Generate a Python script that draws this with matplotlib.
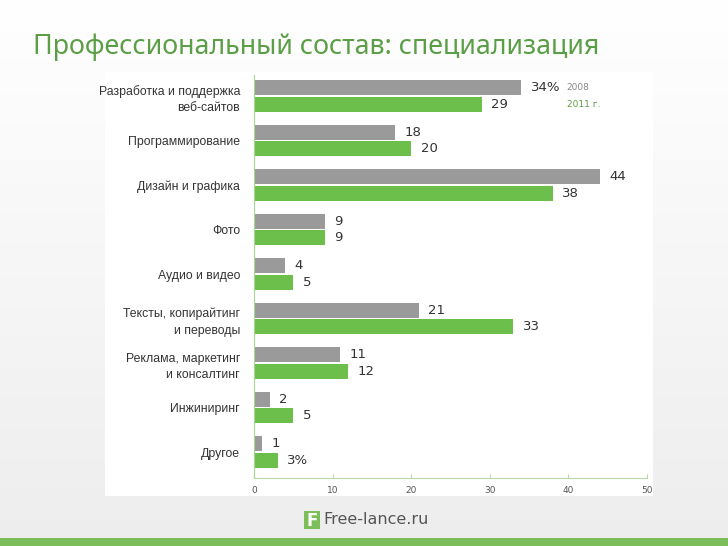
#!/usr/bin/env python3
import matplotlib
matplotlib.use('Agg')
import matplotlib.pyplot as plt
import numpy as np
from matplotlib.patches import Rectangle

categories = [
    'Разработка и поддержка\nвеб-сайтов',
    'Программирование',
    'Дизайн и графика',
    'Фото',
    'Аудио и видео',
    'Тексты, копирайтинг\nи переводы',
    'Реклама, маркетинг\nи консалтинг',
    'Инжиниринг',
    'Другое',
]
values_2008 = [34, 18, 44, 9, 4, 21, 11, 2, 1]
values_2011 = [29, 20, 38, 9, 5, 33, 12, 5, 3]
labels_2008 = ['34%', '18', '44', '9', '4', '21', '11', '2', '1']
labels_2011 = ['29', '20', '38', '9', '5', '33', '12', '5', '3%']
series_names = ['2008', '2011 г.']
x_ticks = [0, 10, 20, 30, 40, 50]

GRAY = '#9a9a9a'
GREEN = '#6cbf4a'
TITLE_GREEN = '#5a9e45'
TEXT = '#333333'

W, H = 728, 546
fig = plt.figure(figsize=(W / 100, H / 100), dpi=100)

# background gradient
bg = fig.add_axes([0, 0, 1, 1], zorder=-10)
grad = np.linspace(1.0, 0.93, 256).reshape(-1, 1)
bg.imshow(np.dstack([grad, grad, grad]), aspect='auto', extent=[0, W, H, 0])
bg.set_xlim(0, W)
bg.set_ylim(H, 0)
bg.axis('off')
# white chart panel
bg.add_patch(Rectangle((105, 72), 548, 424, facecolor='white', edgecolor='none'))
# bottom band
bg.add_patch(Rectangle((0, 538), W, 8, facecolor='#7cbf5a', edgecolor='none'))
# logo
bg.add_patch(Rectangle((304, 511), 16, 18, facecolor='#7cbf5a', edgecolor='none'))
bg.text(312, 520.5, 'F', color='white', fontsize=12, fontweight='bold',
        ha='center', va='center', family='DejaVu Sans')
bg.text(323, 520, 'Free-lance.ru', color='#555555', fontsize=11.5,
        ha='left', va='center', family='DejaVu Sans')

fig.text(33 / W, 1 - 47 / H, 'Профессиональный состав: специализация',
         color=TITLE_GREEN, fontsize=19.3, ha='left', va='center', family='Noto Sans')

ax = fig.add_axes([254 / W, 1 - 478 / H, 393 / W, 403 / H])
ax.set_facecolor('none')
y = np.arange(len(categories))
off = 0.184
h = 0.34
ax.barh(y - off, values_2008, height=h, color=GRAY)
ax.barh(y + off, values_2011, height=h, color=GREEN)

for i in range(len(categories)):
    ax.text(values_2008[i] + 1.2, y[i] - off, labels_2008[i], va='center', ha='left',
            fontsize=9.5, color=TEXT, family='DejaVu Sans')
    ax.text(values_2011[i] + 1.2, y[i] + off, labels_2011[i], va='center', ha='left',
            fontsize=9.5, color=TEXT, family='DejaVu Sans')

ax.text(39.8, -off, series_names[0], va='center', ha='left', fontsize=6.5, color='#888888')
ax.text(39.8, off, series_names[1], va='center', ha='left', fontsize=6.5, color='#5a9e45')

ax.set_xlim(0, 50)
ax.set_ylim(8.584, -0.472)
ax.set_yticks(y)
ax.set_yticklabels(categories, fontsize=8.8, color=TEXT, family='Liberation Sans',
                   linespacing=1.5)
ax.tick_params(axis='y', length=0, pad=10)
ax.set_xticks(x_ticks)
ax.set_xticklabels([str(t) for t in x_ticks], fontsize=6.5, color='#555555')
ax.tick_params(axis='x', direction='in', length=3, color='#b8d8a8', pad=6)
for s in ['top', 'right']:
    ax.spines[s].set_visible(False)
ax.spines['left'].set_color('#a8d496')
ax.spines['bottom'].set_color('#b8d8a8')

fig.savefig('out.png', dpi=100)
